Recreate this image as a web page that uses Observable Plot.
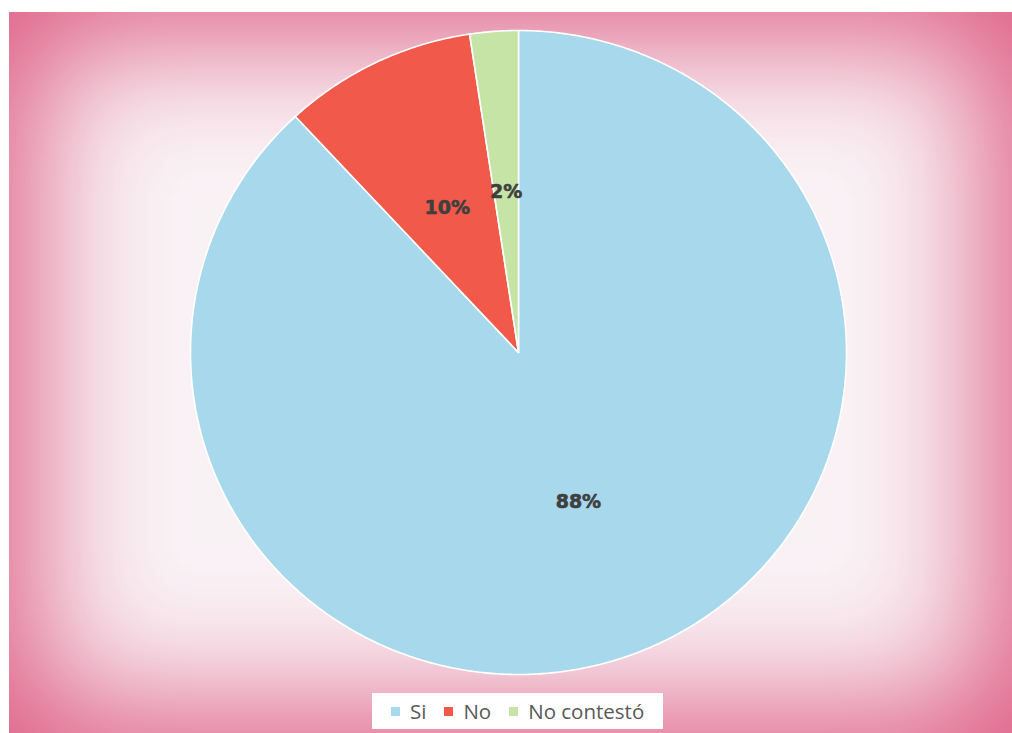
<!DOCTYPE html>
<html>
<head>
<meta charset="utf-8">
<script src="https://cdn.jsdelivr.net/npm/d3@7"></script>
<script src="https://cdn.jsdelivr.net/npm/@observablehq/plot@0.6"></script>
<style>
  html, body { margin: 0; padding: 0; background: #ffffff; }
  #wrap { position: relative; width: 1012px; height: 733px; overflow: hidden; background: #ffffff; }
  #panel { position: absolute; left: 9px; top: 12px; right: 0; bottom: 0;
           background: #f9f2f5;
           box-shadow: inset 0 0 130px 26px rgb(222, 92, 132); }
  #chart { position: absolute; left: 0; top: 0; }
  #legend { position: absolute; left: 372px; top: 693px; width: 291px; height: 36px;
            background: #ffffff; box-sizing: border-box; white-space: nowrap;
            display: flex; flex-wrap: nowrap; align-items: center; justify-content: flex-start; padding-left: 19px;
            font-family: "Open Sans", "Liberation Sans", sans-serif; font-size: 20.5px; color: #595959; }
  .item { display: flex; align-items: center; margin-right: 18px; flex-shrink: 0; white-space: nowrap; }
  .item:last-child { margin-right: 0; }
  .sw { width: 9px; height: 9px; margin-right: 10px; flex-shrink: 0; }
</style>
</head>
<body>
<div id="wrap">
  <div id="panel"></div>
  <div id="chart"></div>
  <div id="legend"></div>
</div>
<script>
// Data (counts consistent with 88% / 10% / 2%)
const categories = ["Si", "No", "No contestó"];
const counts = [37, 4, 1];
const colors = ["#a8d8ec", "#f15a4a", "#c5e4a6"];

const total = d3.sum(counts);
const pie = d3.pie().sort(null).value(d => d.count)(
  categories.map((c, i) => ({ cat: c, count: counts[i] }))
);

// Build slice outlines (polygon points) from the pie angles
const slicePts = [];
for (const s of pie) {
  const cat = s.data.cat;
  slicePts.push({ cat, x: 0, y: 0 });
  const n = Math.max(4, Math.ceil((s.endAngle - s.startAngle) / (Math.PI / 360)));
  for (let k = 0; k <= n; k++) {
    const a = s.startAngle + (s.endAngle - s.startAngle) * k / n;
    slicePts.push({ cat, x: Math.sin(a), y: Math.cos(a) });
  }
  slicePts.push({ cat, x: 0, y: 0 });
}

const labels = pie.map(s => {
  const a = (s.startAngle + s.endAngle) / 2;
  return {
    cat: s.data.cat,
    x: 0.5 * Math.sin(a),
    y: 0.5 * Math.cos(a),
    text: Math.round(100 * s.data.count / total) + "%"
  };
});

const chart = Plot.plot({
  width: 1012,
  height: 733,
  margin: 0,
  style: { background: "transparent", overflow: "visible" },
  x: { domain: [-1, 1], range: [190, 846], axis: null },
  y: { domain: [-1, 1], range: [674, 30], axis: null },
  color: { domain: categories, range: colors, legend: false },
  marks: [
    Plot.line(slicePts, {
      x: "x", y: "y", z: "cat", fill: "cat",
      stroke: "#ffffff", strokeWidth: 1.6, strokeLinejoin: "round", curve: "linear"
    }),
    Plot.text(labels, {
      x: "x", y: "y", text: "text",
      fill: "#3f3f3f", stroke: "#3f3f3f", strokeWidth: 0.6,
      fontSize: 19, fontWeight: "bold",
      fontFamily: "DejaVu Sans, sans-serif"
    })
  ]
});
document.getElementById("chart").appendChild(chart);

const legend = document.getElementById("legend");
categories.forEach((c, i) => {
  const item = document.createElement("div");
  item.className = "item";
  const sw = document.createElement("div");
  sw.className = "sw";
  sw.style.background = colors[i];
  const t = document.createElement("span");
  t.textContent = c;
  item.appendChild(sw);
  item.appendChild(t);
  legend.appendChild(item);
});
</script>
</body>
</html>
